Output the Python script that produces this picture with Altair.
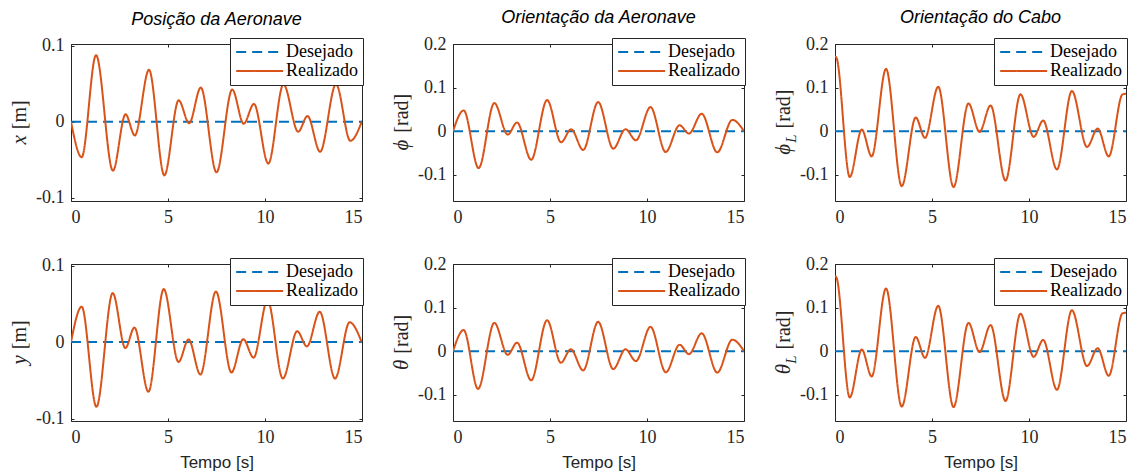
import altair as alt
import pandas as pd

# ---- data (time in s, value) ----
t_x = [0, 0.55, 1.29, 2.16, 2.81, 3.29, 4.02, 4.81, 5.55, 6.09, 6.69, 7.50, 8.31, 8.90, 9.43, 10.17, 10.95, 11.71, 12.19, 12.84, 13.66, 14.40, 15.0]
v_x = [0, -0.0465, 0.0874, -0.0642, 0.0097, -0.018, 0.0681, -0.0704, 0.0281, -0.002, 0.0448, -0.0664, 0.0422, -0.0026, 0.0233, -0.0549, 0.0492, -0.0131, 0.0075, -0.0394, 0.0492, -0.0251, 0.001]

t_y = [0, 0.55, 1.31, 2.15, 2.80, 3.27, 3.99, 4.78, 5.54, 6.06, 6.67, 7.47, 8.27, 8.88, 9.41, 10.13, 10.92, 11.66, 12.16, 12.82, 13.61, 14.36, 15.0]
v_y = [0, 0.0463, -0.0845, 0.064, -0.0078, 0.019, -0.0649, 0.0692, -0.0259, 0.0035, -0.0424, 0.0661, -0.0397, 0.0039, -0.0203, 0.0549, -0.0476, 0.0142, -0.0056, 0.0397, -0.0476, 0.0259, -0.001]

t_phi = [0, 0.55, 1.32, 2.13, 2.82, 3.30, 4.03, 4.85, 5.57, 6.09, 6.71, 7.48, 8.26, 8.89, 9.43, 10.18, 10.96, 11.68, 12.16, 12.82, 13.62, 14.40, 15.0]
v_phi = [0, 0.0477, -0.0846, 0.0646, -0.0077, 0.020, -0.0654, 0.0715, -0.0254, 0.0046, -0.043, 0.0669, -0.040, 0.0046, -0.0208, 0.0554, -0.0477, 0.0138, -0.0054, 0.040, -0.0485, 0.026, 0.0]

t_theta = [0, 0.55, 1.29, 2.13, 2.82, 3.30, 4.03, 4.85, 5.56, 6.07, 6.71, 7.48, 8.26, 8.89, 9.43, 10.18, 10.97, 11.68, 12.16, 12.82, 13.62, 14.40, 15.0]
v_theta = [0, 0.0485, -0.0864, 0.065, -0.0083, 0.0197, -0.0667, 0.0712, -0.0265, 0.0045, -0.044, 0.0674, -0.041, 0.0045, -0.0227, 0.056, -0.0485, 0.015, -0.0068, 0.041, -0.049, 0.0265, 0.0]

t_phiL = [0, 0.08, 0.76, 1.38, 1.89, 2.63, 3.44, 4.16, 4.64, 5.32, 6.11, 6.88, 7.45, 8.02, 8.79, 9.56, 10.24, 10.73, 11.44, 12.21, 12.99, 13.54, 14.11, 14.82, 15.0]
v_phiL = [0.172, 0.168, -0.105, 0.0038, -0.0577, 0.143, -0.126, 0.0315, -0.0154, 0.102, -0.128, 0.0638, -0.0015, 0.059, -0.113, 0.0846, -0.013, 0.0246, -0.0877, 0.0923, -0.036, 0.006, -0.0577, 0.0845, 0.086]

t_thetaL = [0, 0.08, 0.76, 1.38, 1.89, 2.63, 3.44, 4.16, 4.64, 5.32, 6.11, 6.88, 7.45, 8.02, 8.79, 9.56, 10.24, 10.73, 11.44, 12.21, 12.99, 13.54, 14.11, 14.82, 15.0]
v_thetaL = [0.1725, 0.1685, -0.106, 0.0038, -0.058, 0.144, -0.127, 0.0328, -0.0153, 0.104, -0.128, 0.065, -0.002, 0.060, -0.114, 0.086, -0.013, 0.026, -0.0885, 0.094, -0.034, 0.007, -0.0565, 0.087, 0.0885]

series = ["Desejado", "Realizado"]
ref_t = [0, 15]
ref_v = [0, 0]
x_ticks = [0, 5, 10, 15]
ticks_small = [-0.1, 0, 0.1]
ticks_big = [-0.1, 0, 0.1, 0.2]
titles_top = ["Posição da Aeronave", "Orientação da Aeronave", "Orientação do Cabo"]
x_title = "Tempo [s]"

BLUE = "#0072BD"
ORANGE = "#D95319"
AX = "#262626"
SERIF = "'Liberation Serif', 'DejaVu Serif', serif"
SANS = "Liberation Sans"
W, H = 291, 157

label_expr = ("datum.value == 0 ? '0' : (datum.value < 0 ? '-' + format(-datum.value, '.1f') "
              ": format(datum.value, '.1f'))")

one = pd.DataFrame({"k": [0]})


def ytitle_layers(pieces):
    """pieces: (text, italic, fontsize, est_width, dx) ; laid out bottom-to-top, centred."""
    gap = 6
    total = sum(p[3] for p in pieces) + gap
    y = H / 2 + total / 2
    out = []
    for i, (txt, ital, fs, w, dx) in enumerate(pieces):
        if i > 0 and not dx:
            y -= gap
        yc = y - w / 2
        y -= w
        out.append(alt.Chart(one).mark_text(
            text=txt, angle=270, align="center", baseline="alphabetic", font=SERIF,
            fontSize=fs, fontStyle="italic" if ital else "normal", color=AX, clip=False
        ).encode(x=alt.value(-45 + dx), y=alt.value(yc)))
    return out


def panel(t, v, pieces, ydomain, yticks, title=None, xtitle=None):
    df = pd.DataFrame({
        "t": ref_t + t,
        "v": ref_v + v,
        "s": [series[0]] * len(ref_t) + [series[1]] * len(t),
    })
    xscale = alt.Scale(domain=[0, 15], nice=False, zero=False)
    yscale = alt.Scale(domain=ydomain, nice=False, zero=False)
    legend = alt.Legend(title=None, orient="none", legendX=159, legendY=-6,
                        symbolType="M-1,0H5", symbolSize=245, symbolStrokeWidth=2,
                        labelFont=SERIF, labelFontSize=18, labelColor="#000000",
                        fillColor="white", strokeColor=AX, padding=5, rowPadding=1,
                        labelOffset=33, labelLimit=200)
    xaxis = alt.Axis(values=x_ticks, title=xtitle, grid=False, domain=False,
                     offset=-3, tickSize=3, tickColor=AX, labelPadding=7,
                     labelFont=SERIF, labelFontSize=18, labelColor=AX,
                     titleFont=SANS, titleFontSize=17, titleFontWeight="normal",
                     titleColor=AX, titlePadding=8)
    yaxis = alt.Axis(values=yticks, title=None, grid=False, domain=False,
                     offset=-3, tickSize=3, tickColor=AX, labelPadding=7,
                     labelExpr=label_expr,
                     labelFont=SERIF, labelFontSize=18, labelColor=AX)
    line = alt.Chart(df).mark_line(interpolate="monotone", strokeWidth=2, clip=True).encode(
        x=alt.X("t:Q", scale=xscale, axis=xaxis),
        y=alt.Y("v:Q", scale=yscale, axis=yaxis),
        color=alt.Color("s:N", scale=alt.Scale(domain=series, range=[BLUE, ORANGE]), legend=legend),
        strokeDash=alt.StrokeDash("s:N", scale=alt.Scale(domain=series, range=[[10, 6], [1, 0]]), legend=legend),
    )
    # inward ticks on the top and right edges (box style)
    box_ticks = alt.Chart(df).mark_point(opacity=0).encode(
        x=alt.X("t:Q", scale=xscale, axis=alt.Axis(orient="top", values=x_ticks, title=None, labels=False,
                                                   grid=False, domain=False, offset=-3, tickSize=3,
                                                   tickColor=AX)),
        y=alt.Y("v:Q", scale=yscale, axis=alt.Axis(orient="right", values=yticks, title=None, labels=False,
                                                   grid=False, domain=False, offset=-3, tickSize=3,
                                                   tickColor=AX)),
    )
    ch = alt.layer(line, box_ticks, *ytitle_layers(pieces)).resolve_axis(x="independent", y="independent")
    props = dict(width=W, height=H)
    if title:
        props["title"] = alt.TitleParams(title, font=SANS, fontStyle="italic", fontSize=18,
                                         fontWeight="normal", color="#000000", anchor="middle",
                                         offset=8)
    return ch.properties(**props)


dom_small = [-0.104, 0.102]
dom_big = [-0.16, 0.2]

# y-axis titles: italic variable + upright units
pc_x = [("x", True, 21, 9.5, 0), ("[m]", False, 20, 28.9, 0)]
pc_y = [("y", True, 21, 9.5, 0), ("[m]", False, 20, 28.9, 0)]
pc_phi = [("ϕ", True, 21, 12.5, 0), ("[rad]", False, 20, 38.9, 0)]
pc_theta = [("θ", True, 21, 10.5, 0), ("[rad]", False, 20, 38.9, 0)]
pc_phiL = [("ϕ", True, 21, 12.5, 0), ("L", True, 15, 8.5, 6), ("[rad]", False, 20, 38.9, 0)]
pc_thetaL = [("θ", True, 21, 10.5, 0), ("L", True, 15, 8.5, 6), ("[rad]", False, 20, 38.9, 0)]

p1 = panel(t_x, v_x, pc_x, dom_small, ticks_small, title=titles_top[0])
p2 = panel(t_phi, v_phi, pc_phi, dom_big, ticks_big, title=titles_top[1])
p3 = panel(t_phiL, v_phiL, pc_phiL, dom_big, ticks_big, title=titles_top[2])
p4 = panel(t_y, v_y, pc_y, [-0.103, 0.102], ticks_small, xtitle=x_title)
p5 = panel(t_theta, v_theta, pc_theta, dom_big, ticks_big, xtitle=x_title)
p6 = panel(t_thetaL, v_thetaL, pc_thetaL, dom_big, ticks_big, xtitle=x_title)

chart = alt.concat(p1, p2, p3, p4, p5, p6, columns=3,
                   spacing=alt.RowColnumber(row=63, column=91), bounds="flush").resolve_legend(
    color="independent", strokeDash="independent"
).configure_view(stroke=AX, strokeWidth=1).properties(
    padding={"left": 8, "top": 8, "right": 5, "bottom": 5}, background="white"
)

chart.save("out.html", embed_options={"renderer": "svg", "actions": False})
